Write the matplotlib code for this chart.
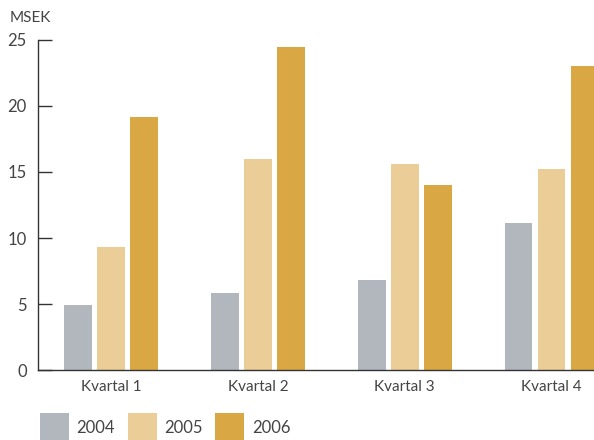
import matplotlib.pyplot as plt
import numpy as np

plt.rcParams["font.family"] = ["Lato", "DejaVu Sans"]

quarters = ["Kvartal 1", "Kvartal 2", "Kvartal 3", "Kvartal 4"]
years = ["2004", "2005", "2006"]
sales_2004 = [4.9, 5.8, 6.8, 11.1]
sales_2005 = [9.3, 16.0, 15.6, 15.2]
sales_2006 = [19.2, 24.5, 14.0, 23.0]
colors = ["#B2B6BD", "#EBCD97", "#D9A744"]

TEXT = "#444444"
SPINE = "#333333"

fig = plt.figure(figsize=(5.94, 4.4), dpi=100)
ax = fig.add_axes([38 / 594, 1 - 370 / 440, 1 - 38 / 594, (370 - 40) / 440])

x = np.arange(len(quarters))
step = 0.225
width = 0.19
for i, (vals, year) in enumerate(zip([sales_2004, sales_2005, sales_2006], years)):
    ax.bar(x + (i - 1) * step, vals, width=width, color=colors[i], label=year)

ax.set_ylim(0, 25)
ax.set_xlim(-0.5, 3.29)
ax.set_yticks([0, 5, 10, 15, 20, 25])
ax.set_xticks(x)
ax.set_xticklabels(quarters)

for side in ["top", "right"]:
    ax.spines[side].set_visible(False)
for side in ["left", "bottom"]:
    ax.spines[side].set_color(SPINE)
    ax.spines[side].set_linewidth(1.0)

ax.tick_params(axis="y", direction="in", length=10, width=1.0, color=SPINE,
               labelsize=12, labelcolor=TEXT, pad=8)
ax.tick_params(axis="x", length=0, labelsize=11, labelcolor=TEXT, pad=7)

fig.text(10 / 594, 1 - 18 / 440, "MSEK", fontsize=11, color=TEXT, va="center", ha="left")

# legend sits partly below the figure edge, as in the original
fig.legend(loc="upper left", bbox_to_anchor=(40 / 594, 1 - 413 / 440), ncol=3,
           frameon=False, borderpad=0, borderaxespad=0, handlelength=1.75,
           handleheight=2.4, handletextpad=0.45, columnspacing=0.75,
           fontsize=12, labelcolor=TEXT)

fig.savefig("out.png", dpi=100)
